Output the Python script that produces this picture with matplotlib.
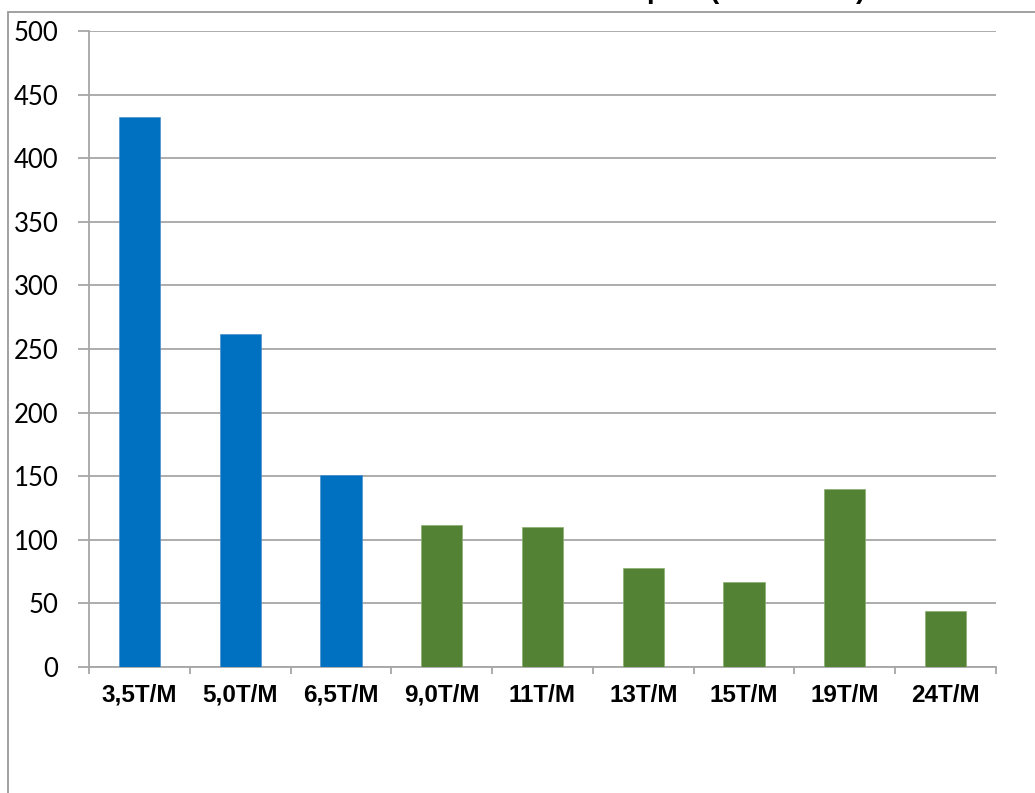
import numpy as np
import matplotlib; matplotlib.use("Agg")
import matplotlib.pyplot as plt
from matplotlib.patches import Rectangle

# ---- du lieu doc tu hinh ----
categories = ["3,5T/M", "5,0T/M", "6,5T/M", "9,0T/M", "11T/M", "13T/M", "15T/M", "19T/M", "24T/M"]
values = [432, 262, 151, 112, 110, 78, 67, 140, 44]
group = ["blue", "blue", "blue", "green", "green", "green", "green", "green", "green"]
y_ticks = [0, 50, 100, 150, 200, 250, 300, 350, 400, 450, 500]

C_BLUE, C_GREEN, C_GRID = "#0070C0", "#548235", "#A6A6A6"
W, H = 1035, 793

fig = plt.figure(figsize=(W / 100, H / 100), dpi=100)
fig.patch.set_facecolor("white")

# khung chart area (bi cat o mep phai/duoi)
fig.patches.append(Rectangle((8 / W, -0.1), 1.2, 1 - 12 / H + 0.1, transform=fig.transFigure,
                             fill=False, edgecolor="#9A9A9A", lw=1.3))

# manh tieu de bi cat o tren (chi con thay phan duoi)
for x, s in [(646, "p"), (710, "("), (856, ")")]:
    fig.text(x / W, 1 + 2 / H, s, fontsize=20, fontweight="bold", family="Liberation Sans",
             va="baseline", ha="left")

ax = fig.add_axes([89 / W, 1 - 667 / H, (996 - 89) / W, (667 - 31) / H])
x = np.arange(len(categories))
cols = [C_BLUE if g == "blue" else C_GREEN for g in group]
bars = ax.bar(x, values, width=0.41, color=cols, linewidth=0.5, zorder=3)
for p, c in zip(bars, cols):
    p.set_edgecolor("#4A90D0" if c == C_BLUE else "#8AAE70")

ax.set_xlim(-0.5, len(categories) - 0.5)
ax.set_ylim(0, 500)
ax.set_yticks(y_ticks)
ax.set_yticklabels([str(v) for v in y_ticks], family="Lato", fontsize=18.5)
ax.set_xticks(x)
ax.set_xticklabels(categories, family="Liberation Sans", fontweight="bold", fontsize=17.5)
ax.set_xticks(np.arange(-0.5, len(categories), 1), minor=True)
ax.tick_params(axis="x", which="major", length=0, pad=12)
ax.tick_params(axis="x", which="minor", length=5, color=C_GRID, width=1.3)
ax.tick_params(axis="y", length=8, color=C_GRID, width=1.3, pad=14)

ax.yaxis.grid(True, color=C_GRID, lw=1.3, zorder=0)
ax.set_axisbelow(True)
for s in ["top", "right"]:
    ax.spines[s].set_visible(False)
ax.spines["left"].set_color(C_GRID); ax.spines["left"].set_linewidth(1.3)
ax.spines["bottom"].set_color(C_GRID); ax.spines["bottom"].set_linewidth(1.3)

fig.savefig("out.png", dpi=100)
